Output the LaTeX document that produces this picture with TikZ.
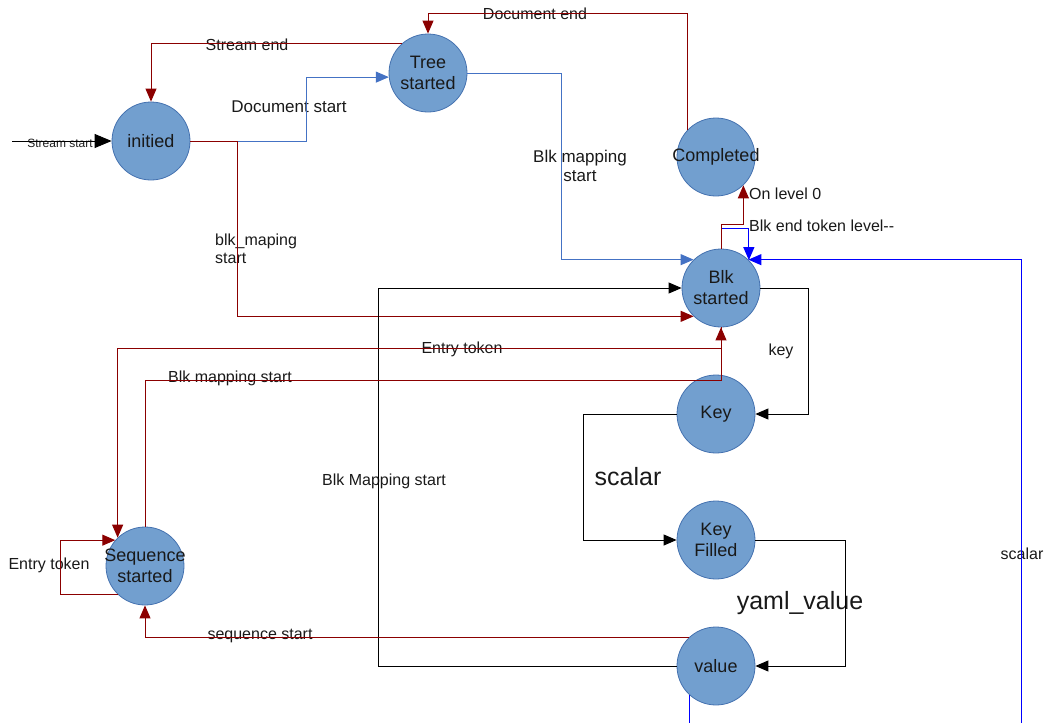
\documentclass[tikz,border=0pt]{standalone}
\usepackage{fontspec}
\setmainfont{Liberation Sans}
\usetikzlibrary{arrows.meta}

\definecolor{statefill}{RGB}{114,159,207}
\definecolor{stateline}{RGB}{69,114,176}
\definecolor{darkred}{RGB}{139,0,0}
\definecolor{softblue}{RGB}{68,114,196}

\tikzset{
  state/.style={circle, minimum size=78pt, inner sep=0pt, fill=statefill, draw=stateline, line width=0.8pt},
  statetext/.style={font=\fontsize{18}{21}\selectfont, align=center, text=black!90},
  lbl/.style={font=\fontsize{16}{18}\selectfont, inner sep=0pt, text=black!90},
  biglbl/.style={font=\fontsize{25}{27}\selectfont, inner sep=0pt, text=black!90},
  trans/.style={line width=1pt, -{Triangle[length=13pt,width=11pt]}},
}

\begin{document}
\begin{tikzpicture}[x=1pt, y=-1pt]
  \useasboundingbox (0,0) rectangle (1045,723);
  \clip (0,0) rectangle (1045,723);

  % Define nodes
  \node[state, label={[statetext]center:initied}]            (init) at (151,141) {};
  \node[state, label={[statetext]center:Tree\\started}]      (tree) at (428,73)  {};
  \node[state, label={[statetext]center:Completed}]          (done) at (716,157) {};
  \node[state, label={[statetext]center:Blk\\started}]       (blk)  at (721,288) {};
  \node[state, label={[statetext]center:Key}]                (key)  at (716,414) {};
  \node[state, label={[statetext]center:Key\\Filled}]        (kf)   at (716,540) {};
  \node[state, label={[statetext]center:value}]              (val)  at (716,666) {};
  \node[state, label={[statetext]center:Sequence\\started}]  (seq)  at (145,566) {};
  \coordinate (entry) at (12,141);

  % Labels
  \node[lbl, font=\fontsize{12}{13}\selectfont] (lStreamStart) at (60,143) {Stream start};
  \node[lbl, font=\fontsize{17}{19}\selectfont] (lDocStart) at (289,107) {Document start};
  \node[lbl] (lStreamEnd) at (247,45) {Stream end};
  \node[lbl] (lDocEnd) at (535,14) {Document end};
  \node[lbl, align=center, font=\fontsize{17}{19}\selectfont] (lBlkMap) at (580,166) {Blk mapping\\start};
  \node[lbl, align=left, anchor=west] (lBlkMaping) at (215,249) {blk\_maping\\start};
  \node[lbl, anchor=west] (lLevel0) at (749,194) {On level 0};
  \node[lbl, anchor=west] (lBlkEnd) at (749,226) {Blk end token level-{}-};
  \node[lbl] (lScalarR) at (1022,554) {scalar};
  \node[lbl] (lKey) at (781,351) {key};
  \node[biglbl] (lScalar) at (628,477) {scalar};
  \node[biglbl] (lYaml) at (800,603) {yaml\_value};
  \node[lbl] (lBlkMapping) at (384,481) {Blk Mapping start};
  \node[lbl] (lEntry) at (462,349) {Entry token};
  \node[lbl] (lBlkMapStart) at (230,378) {Blk mapping start};
  \node[lbl] (lEntrySelf) at (49,565) {Entry token};
  \node[lbl] (lSeqStart) at (260,636) {sequence start};

  % Connect the nodes
  \draw[trans, -{Triangle[length=17pt,width=14pt]}] (entry) -- (init.west);
  \draw[trans, softblue] (init.east) -- (306,0 |- init.east) -- (306,0 |- tree.186) -- (tree.186);
  \draw[trans, darkred] (tree.132) -- (init.north |- tree.132) -- (init.north);
  \draw[trans, darkred] (done.136) -- (done.136 |- 0,13) -- (tree.north |- 0,13) -- (tree.north);
  \draw[trans, softblue] (tree.east) -- (561,0 |- tree.east) -- (561,0 |- blk.134) -- (blk.134);
  \draw[trans, darkred] (init.east) -- (237,0 |- init.east) -- (237,0 |- blk.226) -- (blk.226);
  \draw[trans, blue] (blk.north) -- (blk.north |- 0,228) -- (blk.45 |- 0,228) -- (blk.45);
  \draw[trans, darkred] (blk.north) -- (blk.north |- 0,224) -- (done.314 |- 0,224) -- (done.314);
  \draw[trans, blue] (val.228) -- (val.228 |- 0,740) -- (1021,740) -- (1021,0 |- blk.46) -- (blk.46);
  \draw[trans] (blk.east) -- (808,0 |- blk.east) -- (808,0 |- key.east) -- (key.east);
  \draw[trans] (key.west) -- (583,0 |- key.west) -- (583,0 |- kf.west) -- (kf.west);
  \draw[trans] (kf.east) -- (845,0 |- kf.east) -- (845,0 |- val.east) -- (val.east);
  \draw[trans] (val.west) -- (378,0 |- val.west) -- (378,0 |- blk.west) -- (blk.west);
  \draw[trans, darkred] (blk.south) -- (blk.south |- 0,348) -- (seq.134 |- 0,348) -- (seq.134);
  \draw[trans, darkred] (seq.north) -- (seq.north |- 0,380) -- (blk.south |- 0,380) -- (blk.south);
  \draw[trans, darkred] (seq.226) -- (60,0 |- seq.226) -- (60,0 |- seq.139) -- (seq.139);
  \draw[trans, darkred] (val.134) -- (seq.south |- val.134) -- (seq.south);

\end{tikzpicture}
\end{document}
